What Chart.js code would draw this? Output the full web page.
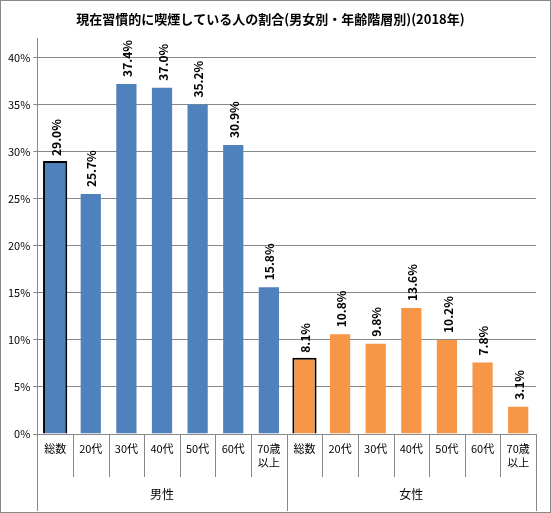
<!DOCTYPE html>
<html><head><meta charset="utf-8">
<script src="https://cdn.jsdelivr.net/npm/chart.js@4"></script>
<style>body{margin:0;background:#fff}#w{width:549px;height:511px;border:1px solid #888}</style>
</head><body><div id="w"><canvas id="c" width="549" height="511"></canvas></div>
<script>
const categories=["総数","20代","30代","40代","50代","60代",["70歳","以上"],"総数","20代","30代","40代","50代","60代",["70歳","以上"]];
const values=[29.0,25.7,37.4,37.0,35.2,30.9,15.8,8.1,10.8,9.8,13.6,10.2,7.8,3.1];
const groups=["男性","女性"];
const yTicks=[0,5,10,15,20,25,30,35,40];
const colors=values.map((v,i)=>i<7?"#4F81BD":"#F79646");
const borders=values.map((v,i)=>(i===0||i===7)?"#000":"rgba(0,0,0,0)");
const F='"Noto Sans CJK JP",sans-serif';
const plug={id:'p',afterDatasetsDraw(ch){
 const c=ch.ctx,x=ch.scales.x,y=ch.scales.y,a=ch.chartArea;
 const meta=ch.getDatasetMeta(0);
 c.save();
 c.font='bold 12px '+F;c.fillStyle='#000';
 meta.data.forEach((b,i)=>{c.save();c.translate(b.x+1,b.y-5);c.rotate(-Math.PI/2);c.textAlign='left';c.textBaseline='middle';c.fillText(values[i].toFixed(1)+'%',0,0);c.restore();});
 const w=(a.right-a.left)/categories.length;
 c.strokeStyle='#888';c.lineWidth=1;
 for(let i=0;i<=categories.length;i++){const xx=Math.round(a.left+i*w)+0.5;const full=(i===0||i===7||i===14);c.beginPath();c.moveTo(xx,a.bottom);c.lineTo(xx,full?510:476);c.stroke();}
 c.font='11px '+F;c.textAlign='center';c.textBaseline='top';
 categories.forEach((l,i)=>{const xx=a.left+(i+0.5)*w;const ls=Array.isArray(l)?l:[l];ls.forEach((s,k)=>c.fillText(s,xx,a.bottom+9+k*14));});
 c.font='12px '+F;
 c.fillText(groups[0],a.left+3.5*w,a.bottom+54);c.fillText(groups[1],a.left+10.5*w,a.bottom+54);
 c.restore();
}};
new Chart(document.getElementById('c'),{type:'bar',
data:{labels:categories,datasets:[{data:values,backgroundColor:colors,borderColor:borders,borderWidth:2,categoryPercentage:1,barPercentage:0.68}]},
options:{responsive:false,animation:false,devicePixelRatio:1,
 layout:{padding:{left:4,right:14,bottom:78,top:0}},
 plugins:{legend:{display:false},tooltip:{enabled:false},
  title:{display:true,text:"現在習慣的に喫煙している人の割合(男女別・年齢階層別)(2018年)",font:{family:F,size:13,weight:'bold'},color:'#000',padding:{top:10,bottom:12}}},
 scales:{x:{display:false},
  y:{min:0,max:42,afterBuildTicks(s){s.ticks=yTicks.map(v=>({value:v}));},
   ticks:{callback:v=>v+'%',font:{family:F,size:11},color:'#000'},
   grid:{color:'#888',drawTicks:true,tickLength:4},border:{color:'#888'}}}},
plugins:[plug]});
</script>
</body></html>
